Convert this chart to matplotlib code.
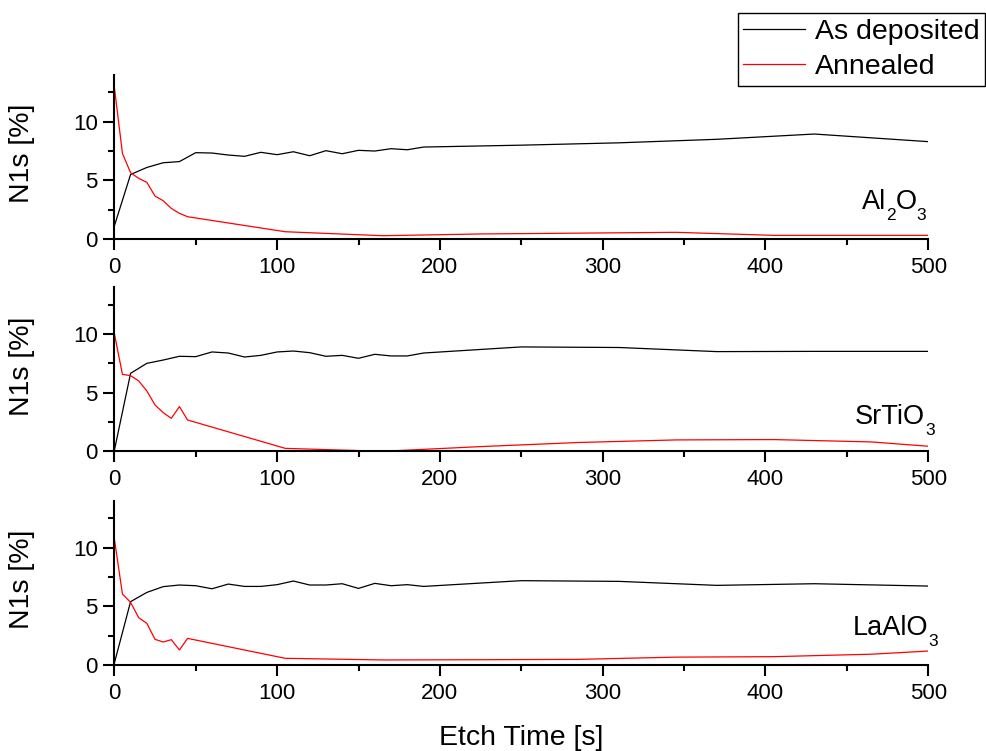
import matplotlib
matplotlib.use("Agg")
import matplotlib.pyplot as plt
from matplotlib.ticker import MultipleLocator

plt.rcParams['font.family'] = ['Liberation Sans', 'DejaVu Sans']

# Etch time sampling [s]
t_dep = [0, 10, 20, 30, 40, 50, 60, 70, 80, 90, 100, 110, 120, 130, 140, 150, 160,
         170, 180, 190, 250, 310, 370, 430, 500]
t_ann = [0, 5, 10, 15, 20, 25, 30, 35, 40, 45, 105, 165, 225, 285, 345, 405, 465, 500]

# Al2O3
al_dep = [1.1, 5.5, 6.1, 6.5, 6.6, 7.36, 7.33, 7.16, 7.05, 7.39, 7.19, 7.44, 7.10, 7.53,
          7.27, 7.56, 7.50, 7.70, 7.61, 7.84, 8.0, 8.2, 8.5, 8.95, 8.3]
al_ann = [12.98, 7.3, 5.65, 5.17, 4.83, 3.66, 3.27, 2.61, 2.19, 1.9, 0.62, 0.28, 0.43,
          0.50, 0.57, 0.31, 0.31, 0.31]

# SrTiO3
st_dep = [0.05, 6.65, 7.5, 7.78, 8.1, 8.07, 8.47, 8.38, 8.04, 8.18, 8.47, 8.55, 8.41,
          8.1, 8.18, 7.93, 8.27, 8.13, 8.13, 8.38, 8.9, 8.85, 8.5, 8.52, 8.52]
st_ann = [10.06, 6.56, 6.45, 6.0, 5.14, 3.95, 3.3, 2.81, 3.81, 2.67, 0.25, 0.0, 0.4,
          0.75, 0.97, 1.0, 0.8, 0.43]

# LaAlO3
la_dep = [0.14, 5.4, 6.19, 6.68, 6.82, 6.76, 6.5, 6.9, 6.7, 6.7, 6.85, 7.16, 6.82, 6.82,
          6.93, 6.53, 6.96, 6.76, 6.85, 6.7, 7.19, 7.13, 6.79, 6.93, 6.73]
la_ann = [10.8, 6.05, 5.34, 4.03, 3.55, 2.19, 1.96, 2.16, 1.28, 2.27, 0.57, 0.43, 0.45,
          0.48, 0.67, 0.71, 0.92, 1.19]

# formula pieces: (text, is_subscript)
materials = [[('Al', False), ('2', True), ('O', False), ('3', True)],
             [('SrTiO', False), ('3', True)],
             [('LaAlO', False), ('3', True)]]
series_names = ['As deposited', 'Annealed']
dep_series = [al_dep, st_dep, la_dep]
ann_series = [al_ann, st_ann, la_ann]

# layout of the material labels (right end in x data units, baseline in y data units)
label_xr = [498.6, 503.8, 505.8]
label_y = [2.56, 2.33, 2.56]

W, H = 987, 751
fig = plt.figure(figsize=(W / 100, H / 100), dpi=100)
renderer = fig.canvas.get_renderer()

left = 114.3 / W
width = 814 / W
height = 164.2 / H
bottoms_px = [239, 451.3, 665]

tick_fs = 16
big_fs = 20.5
form_fs = 19.5
sub_fs = 12.5
sub_shift_pt = 8.0


def text_width_pt(s, fs):
    t = fig.text(0, 0, s, fontsize=fs)
    w = t.get_window_extent(renderer).width
    t.remove()
    return w * 72.0 / fig.dpi


def place_formula(ax, xr, yb, pieces):
    widths = [text_width_pt(s, sub_fs if sub else form_fs) for s, sub in pieces]
    off = -sum(widths)
    for (s, sub), w in zip(pieces, widths):
        ax.annotate(s, xy=(xr, yb), xycoords='data',
                    xytext=(off, -sub_shift_pt if sub else 0),
                    textcoords='offset points', ha='left', va='baseline',
                    fontsize=sub_fs if sub else form_fs, annotation_clip=False)
        off += w


lines = []
for i in range(3):
    ax = fig.add_axes([left, (H - bottoms_px[i]) / H, width, height])
    l1, = ax.plot(t_dep, dep_series[i], color='black', lw=0.9)
    l2, = ax.plot(t_ann, ann_series[i], color='red', lw=0.9)
    if i == 0:
        lines = [l1, l2]
    ax.set_xlim(0, 500)
    ax.set_ylim(0, 14)
    ax.spines['top'].set_visible(False)
    ax.spines['right'].set_visible(False)
    for s in ('left', 'bottom'):
        ax.spines[s].set_linewidth(1.5)
    ax.xaxis.set_major_locator(MultipleLocator(100))
    ax.xaxis.set_minor_locator(MultipleLocator(50))
    ax.yaxis.set_major_locator(MultipleLocator(5))
    ax.yaxis.set_minor_locator(MultipleLocator(2.5))
    ax.tick_params(which='major', length=8, width=1.5, labelsize=tick_fs, direction='out')
    ax.tick_params(which='minor', length=4, width=1.5, direction='out')
    ax.tick_params(axis='x', which='major', pad=5)
    ax.tick_params(axis='y', which='major', pad=4)
    ax.set_ylabel('N1s [%]', fontsize=big_fs)
    ax.yaxis.set_label_coords(-0.0974, 0.52)
    place_formula(ax, label_xr[i], label_y[i], materials[i])
    if i == 2:
        ax.set_xlabel('Etch Time [s]', fontsize=big_fs, labelpad=15)

leg = fig.legend(lines, series_names, loc='upper right',
                 bbox_to_anchor=(985 / W, 1 - 13 / H), fontsize=big_fs,
                 frameon=True, fancybox=False, shadow=False,
                 handlelength=2.15, handletextpad=0.35, borderpad=0.2,
                 labelspacing=0.33, borderaxespad=0)
leg.get_frame().set_edgecolor('black')
leg.get_frame().set_linewidth(1.0)
leg.get_frame().set_alpha(1)

fig.savefig('out.png', dpi=100)
